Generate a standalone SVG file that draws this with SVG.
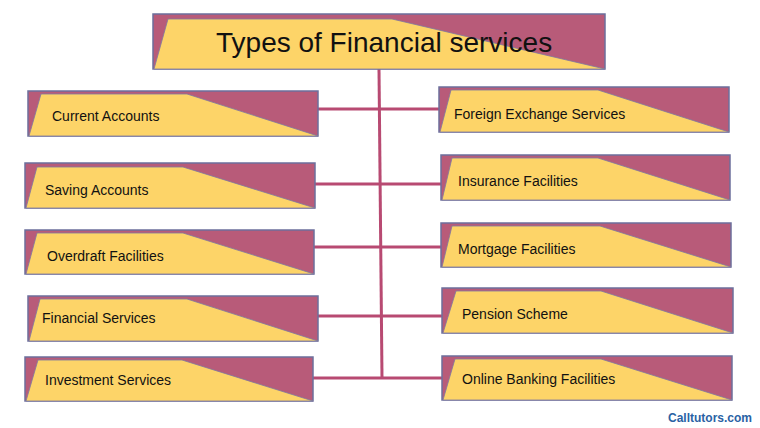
<svg xmlns="http://www.w3.org/2000/svg" width="760" height="428" viewBox="0 0 760 428">
<style>
.bg{fill:#b85b79;stroke:#6c6f9c;stroke-width:1.5}
.fg{fill:#fdd468;stroke:#7d78a0;stroke-width:0.8;stroke-linejoin:round}
.lbl{font-family:"Liberation Sans",Arial,sans-serif;font-size:14px;fill:#111}
.ttl{font-family:"Liberation Sans",Arial,sans-serif;font-size:28px;fill:#111}
.conn{stroke:#b84a72;stroke-width:3;fill:none}
</style>
<rect width="760" height="428" fill="#ffffff"/>
<g id="connectors">
<line class="conn" x1="379" y1="69" x2="382" y2="378"/>
<line class="conn" x1="318" y1="109" x2="439" y2="109"/>
<line class="conn" x1="315" y1="184" x2="441" y2="184"/>
<line class="conn" x1="314" y1="247" x2="441" y2="247"/>
<line class="conn" x1="318" y1="316" x2="442" y2="316"/>
<line class="conn" x1="313" y1="378" x2="442" y2="378"/>
</g>
<g id="title">
<rect class="bg" x="153" y="14" width="452" height="55"/>
<polygon class="fg" points="168,19 392,19 605,69 154,69"/>
<text class="ttl" x="216" y="52">Types of Financial services</text>
</g>
<g id="current-accounts">
<rect class="bg" x="28" y="91" width="290" height="45"/>
<polygon class="fg" points="41,94 187,94 318,136 29,136"/>
<text class="lbl" x="52" y="121">Current Accounts</text>
</g>
<g id="saving-accounts">
<rect class="bg" x="25" y="163" width="290" height="45"/>
<polygon class="fg" points="37,167 183,167 315,208 26,208"/>
<text class="lbl" x="45" y="195">Saving Accounts</text>
</g>
<g id="overdraft-facilities">
<rect class="bg" x="25" y="230" width="289" height="44"/>
<polygon class="fg" points="37,233 183,233 314,274 26,274"/>
<text class="lbl" x="47" y="261">Overdraft Facilities</text>
</g>
<g id="financial-services">
<rect class="bg" x="28" y="296" width="290" height="45"/>
<polygon class="fg" points="40,299 187,299 318,341 29,341"/>
<text class="lbl" x="42" y="323">Financial Services</text>
</g>
<g id="investment-services">
<rect class="bg" x="25" y="357" width="288" height="44"/>
<polygon class="fg" points="38,360 182,360 313,401 26,401"/>
<text class="lbl" x="45" y="385">Investment Services</text>
</g>
<g id="foreign-exchange-services">
<rect class="bg" x="439" y="87" width="290" height="45"/>
<polygon class="fg" points="451,90 598,90 729,132 440,132"/>
<text class="lbl" x="454" y="119">Foreign Exchange Services</text>
</g>
<g id="insurance-facilities">
<rect class="bg" x="441" y="155" width="289" height="45"/>
<polygon class="fg" points="452,158 598,158 730,200 442,200"/>
<text class="lbl" x="458" y="186">Insurance Facilities</text>
</g>
<g id="mortgage-facilities">
<rect class="bg" x="441" y="223" width="290" height="44"/>
<polygon class="fg" points="452,226 600,226 731,267 442,267"/>
<text class="lbl" x="458" y="254">Mortgage Facilities</text>
</g>
<g id="pension-scheme">
<rect class="bg" x="442" y="288" width="291" height="45"/>
<polygon class="fg" points="456,291 601,291 733,333 443,333"/>
<text class="lbl" x="462" y="319">Pension Scheme</text>
</g>
<g id="online-banking-facilities">
<rect class="bg" x="442" y="356" width="290" height="44"/>
<polygon class="fg" points="455,359 601,359 732,400 443,400"/>
<text class="lbl" x="462" y="384">Online Banking Facilities</text>
</g>
<text x="668" y="422" font-family="'Liberation Sans',Arial,sans-serif" font-size="12" font-weight="bold" fill="#2a62a4">Calltutors.com</text>
</svg>
